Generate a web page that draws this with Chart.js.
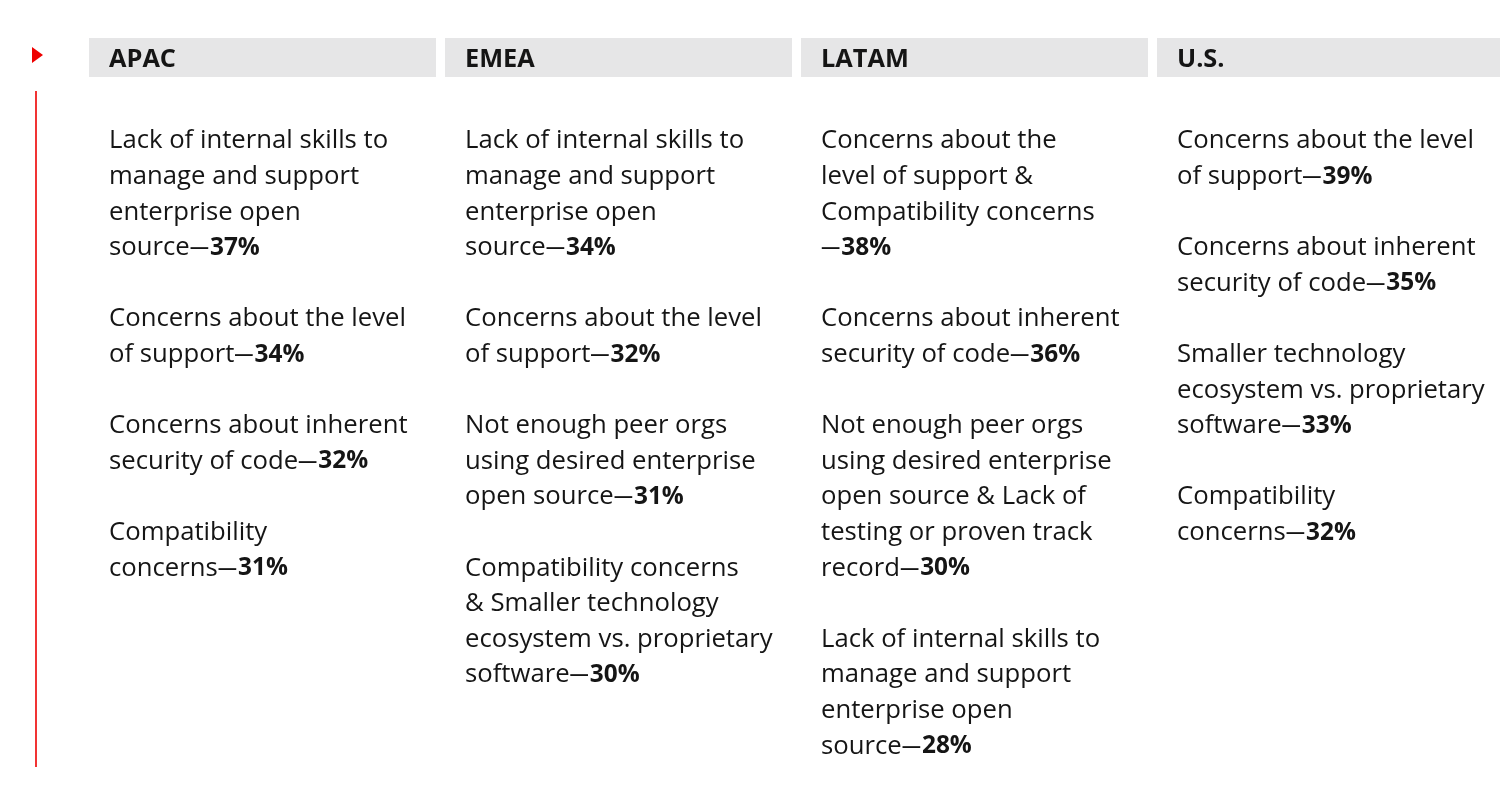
<!DOCTYPE html>
<html>
<head>
<meta charset="utf-8">
<script src="https://cdn.jsdelivr.net/npm/chart.js@4/dist/chart.umd.min.js"></script>
<style>
  html, body { margin: 0; padding: 0; overflow: hidden; background: #fff; }
  #wrap { width: 1513px; height: 804px; }
</style>
</head>
<body>
<div id="wrap"><canvas id="chart" width="1513" height="804"></canvas></div>
<script>
// Regions (columns)
const regions = ['APAC', 'EMEA', 'LATAM', 'U.S.'];

// Challenge labels per region ("\n" = line break as in the original)
const apacLabels = [
  'Lack of internal skills to\nmanage and support\nenterprise open\nsource',
  'Concerns about the level\nof support',
  'Concerns about inherent\nsecurity of code',
  'Compatibility\nconcerns'
];
const apacValues = [37, 34, 32, 31];

const emeaLabels = [
  'Lack of internal skills to\nmanage and support\nenterprise open\nsource',
  'Concerns about the level\nof support',
  'Not enough peer orgs\nusing desired enterprise\nopen source',
  'Compatibility concerns\n& Smaller technology\necosystem vs. proprietary\nsoftware'
];
const emeaValues = [34, 32, 31, 30];

const latamLabels = [
  'Concerns about the\nlevel of support &\nCompatibility concerns\n',
  'Concerns about inherent\nsecurity of code',
  'Not enough peer orgs\nusing desired enterprise\nopen source & Lack of\ntesting or proven track\nrecord',
  'Lack of internal skills to\nmanage and support\nenterprise open\nsource'
];
const latamValues = [38, 36, 30, 28];

const usLabels = [
  'Concerns about the level\nof support',
  'Concerns about inherent\nsecurity of code',
  'Smaller technology\necosystem vs. proprietary\nsoftware',
  'Compatibility\nconcerns'
];
const usValues = [39, 35, 33, 32];

const regionLabels = [apacLabels, emeaLabels, latamLabels, usLabels];
const regionValues = [apacValues, emeaValues, latamValues, usValues];

const FAMILY = '"Open Sans", "Noto Sans", sans-serif';
const TEXT = '#151515';

// fit font sizes to the widths measured on the original
const mctx = document.createElement('canvas').getContext('2d');
mctx.font = '100px ' + FAMILY;
const bodySize = 100 * 297 / mctx.measureText('Concerns about the level').width;
mctx.font = 'bold 100px ' + FAMILY;
const headSize = 100 * 67 / mctx.measureText('APAC').width;
const numSize = bodySize * 0.95;

const textPlugin = {
  id: 'textPlugin',
  afterDraw(chart) {
    const ctx = chart.ctx;
    const bars = chart.getDatasetMeta(0).data;
    ctx.save();

    // red marker and rule
    ctx.fillStyle = '#ee0000';
    ctx.beginPath();
    ctx.moveTo(32, 47);
    ctx.lineTo(43, 55);
    ctx.lineTo(32, 63);
    ctx.closePath();
    ctx.fill();
    ctx.strokeStyle = '#ee0000';
    ctx.lineWidth = 1.6;
    ctx.beginPath();
    ctx.moveTo(36, 91);
    ctx.lineTo(36, 767);
    ctx.stroke();

    ctx.textBaseline = 'middle';
    ctx.textAlign = 'left';
    ctx.fillStyle = TEXT;

    const lineH = 35.6;
    regions.forEach((region, i) => {
      const bar = bars[i];
      const left = bar.x - bar.width / 2 + 20;
      const midY = (bar.y + bar.base) / 2 + 2;

      ctx.font = 'bold ' + headSize + 'px ' + FAMILY;
      ctx.fillText(region, left, midY);

      let y = 141;
      regionLabels[i].forEach((label, k) => {
        const lines = label.split('\n');
        lines.forEach((line, li) => {
          ctx.font = bodySize + 'px ' + FAMILY;
          ctx.fillText(line, left, y);
          if (li === lines.length - 1) {
            let x = left + ctx.measureText(line).width;
            // narrower dash, as in the original typeface
            const dw = ctx.measureText('\u2014').width;
            ctx.save();
            ctx.translate(x, y);
            ctx.scale(0.75, 1);
            ctx.fillText('\u2014', 0, 0);
            ctx.restore();
            x += dw * 0.75 + 1;
            ctx.font = 'bold ' + numSize + 'px ' + FAMILY;
            ctx.fillText(regionValues[i][k] + '%', x, y);
          }
          y += lineH;
        });
        y += lineH;
      });
    });
    ctx.restore();
  }
};

new Chart(document.getElementById('chart'), {
  type: 'bar',
  data: {
    labels: regions,
    datasets: [{
      data: regions.map(() => [0, 1]),
      backgroundColor: '#e6e6e7',
      borderWidth: 0,
      categoryPercentage: 1,
      barPercentage: 347 / 356
    }]
  },
  options: {
    responsive: false,
    animation: false,
    layout: { padding: { left: 84.5, right: 4.5, top: 38, bottom: 727 } },
    plugins: { legend: { display: false }, tooltip: { enabled: false } },
    scales: {
      x: { display: false },
      y: { display: false, min: 0, max: 1 }
    }
  },
  plugins: [textPlugin]
});
</script>
</body>
</html>
